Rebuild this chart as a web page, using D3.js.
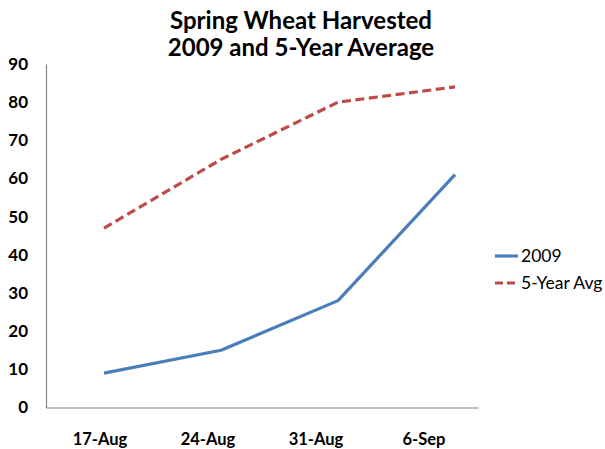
<!DOCTYPE html>
<html><head><meta charset="utf-8">
<script src="https://cdn.jsdelivr.net/npm/d3@7"></script>
<style>body{margin:0;background:#fff}svg{display:block}text{font-family:Lato,"Open Sans",sans-serif}</style>
</head><body><svg id="c" width="605" height="449"></svg>
<script>
const categories = ["17-Aug","24-Aug","31-Aug","6-Sep"];
const series2009 = [9, 15, 28, 61];
const series5yr = [47, 65, 80, 84];
const yTicks = [0,10,20,30,40,50,60,70,80,90];
const seriesNames = ["2009","5-Year Avg"];
const titleLines = ["Spring Wheat Harvested","2009 and 5-Year Average"];

(function(){
const svg = d3.select("#c");
const pLeft = 46, pRight = 478, pTop = 64, pBottom = 407.5;
const y = d3.scaleLinear().domain([0,90]).range([pBottom, pTop]);
const xLab = d3.scaleBand().domain(categories).range([pLeft, pRight]);
const xPt = d3.scalePoint().domain(categories).range([104, 455]);

svg.selectAll(".t").data(titleLines).join("text")
  .attr("x", 301).attr("y", (d,i)=>29+i*27).attr("text-anchor","middle")
  .attr("font-size", 24).attr("font-weight", "bold").attr("fill","#000").text(d=>d);

const ya = svg.append("g").attr("transform", `translate(${pLeft},0)`)
  .call(d3.axisLeft(y).tickValues(yTicks).tickSize(0).tickPadding(18));
ya.select(".domain").attr("stroke","#868686").attr("stroke-width",1.2);
ya.selectAll("text").attr("font-size",17).attr("font-weight","bold").attr("fill","#000")
  .attr("font-family","Lato,'Open Sans',sans-serif");

const xa = svg.append("g").attr("transform", `translate(0,${pBottom})`)
  .call(d3.axisBottom(xLab).tickSize(0).tickPadding(26));
xa.select(".domain").attr("stroke","#868686").attr("stroke-width",1.2);
xa.selectAll("text").attr("font-size",16.5).attr("font-weight","bold").attr("fill","#000")
  .attr("font-family","Lato,'Open Sans',sans-serif");

const line = d3.line().x((d,i)=>xPt(categories[i])).y(d=>y(d));
svg.append("path").datum(series2009).attr("d", line).attr("fill","none")
  .attr("stroke","#4A7EBB").attr("stroke-width",3.2).attr("stroke-linejoin","round");
svg.append("path").datum(series5yr).attr("d", line).attr("fill","none")
  .attr("stroke","#BE4B48").attr("stroke-width",3.2).attr("stroke-dasharray","9,4.5");

const legColors = ["#4A7EBB","#BE4B48"];
const lg = svg.append("g");
seriesNames.forEach((n,i)=>{
  const ly = 256 + i*27;
  lg.append("line").attr("x1",495).attr("x2",518).attr("y1",ly).attr("y2",ly)
    .attr("stroke",legColors[i]).attr("stroke-width",3.2)
    .attr("stroke-dasharray", i===1 ? "8,4" : null);
  lg.append("text").attr("x",521).attr("y",ly+6).attr("font-size",17.5).attr("fill","#000").text(n);
});
})();
</script></body></html>
